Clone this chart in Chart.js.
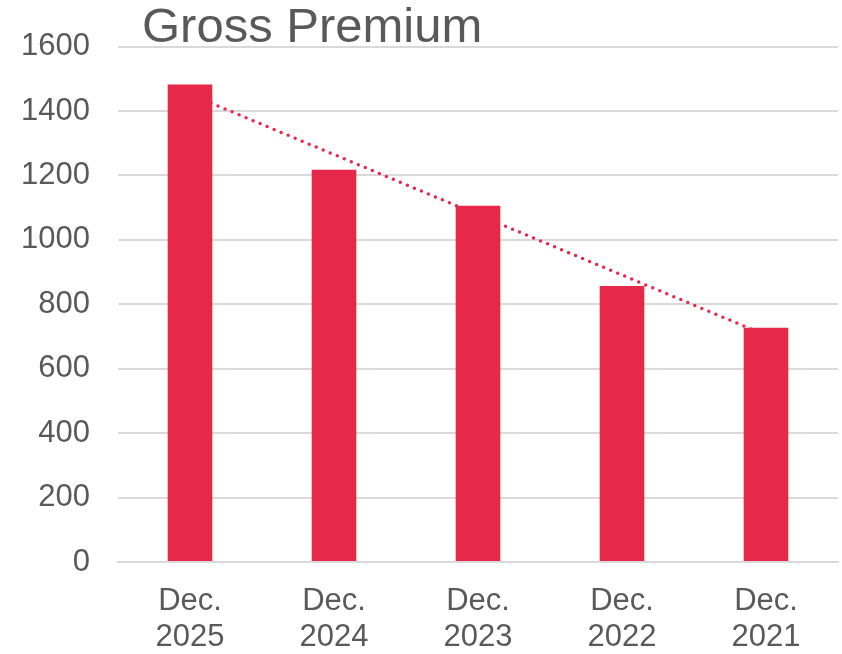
<!DOCTYPE html>
<html>
<head>
<meta charset="utf-8">
<script src="https://cdn.jsdelivr.net/npm/chart.js@4"></script>
<style>
  html, body { margin: 0; padding: 0; background: #fff; }
  #wrap { width: 842px; height: 654px; position: relative; }
</style>
</head>
<body>
<div id="wrap"><canvas id="premiumChart"></canvas></div>
<script>
// chart data
const periods = [["Dec.", "2025"], ["Dec.", "2024"], ["Dec.", "2023"], ["Dec.", "2022"], ["Dec.", "2021"]];
const grossPremium = [1482, 1218, 1106, 857, 727];
const trendValues = [1452, 1265, 1078, 891, 704];
const yTicks = [0, 200, 400, 600, 800, 1000, 1200, 1400, 1600];

const barColor = "#E6284A";
const textColor = "#595959";
const fontFamily = "'Liberation Sans', Arial, sans-serif";

// title is drawn by hand so it can sit close to the top grid line
const titlePlugin = {
    id: "titleText",
    afterDraw(chart) {
        const ctx = chart.ctx;
        ctx.save();
        ctx.font = "49px " + fontFamily;
        ctx.fillStyle = textColor;
        ctx.textBaseline = "alphabetic";
        ctx.fillText("Gross Premium", 142, 42);
        ctx.restore();
    }
};

const ctx = document.getElementById("premiumChart").getContext("2d");

new Chart(ctx, {
    type: "bar",
    data: {
        labels: periods,
        datasets: [
            {
                label: "Gross Premium",
                data: grossPremium,
                backgroundColor: barColor,
                barPercentage: 0.31,
                categoryPercentage: 1,
                order: 1
            },
            {
                type: "line",
                label: "Trend",
                data: trendValues,
                borderColor: barColor,
                borderWidth: 3.5,
                borderDash: [0, 7.6],
                borderCapStyle: "round",
                pointRadius: 0,
                fill: false,
                tension: 0,
                order: 2
            }
        ]
    },
    plugins: [titlePlugin],
    options: {
        responsive: true,
        maintainAspectRatio: false,
        animation: false,
        layout: { padding: { top: 30, right: 4, left: 0, bottom: 0 } },
        plugins: {
            legend: { display: false },
            tooltip: { enabled: false }
        },
        scales: {
            x: {
                afterFit(axis) {
                    axis.height = 92;
                },
                grid: { display: false, drawTicks: false },
                border: { display: true, color: "#d9d9d9", width: 2 },
                ticks: {
                    color: textColor,
                    font: { family: fontFamily, size: 31, lineHeight: 1.15 },
                    padding: 22,
                    maxRotation: 0
                }
            },
            y: {
                min: 0,
                max: 1600,
                afterBuildTicks(axis) {
                    axis.ticks = yTicks.map(v => ({ value: v }));
                },
                afterFit(axis) {
                    axis.width = 118;
                },
                grid: { color: "#d9d9d9", lineWidth: 2, drawTicks: false },
                border: { display: false },
                ticks: {
                    color: textColor,
                    font: { family: fontFamily, size: 31 },
                    padding: 28,
                    callback: (value) => String(value)
                }
            }
        }
    }
});
</script>
</body>
</html>
